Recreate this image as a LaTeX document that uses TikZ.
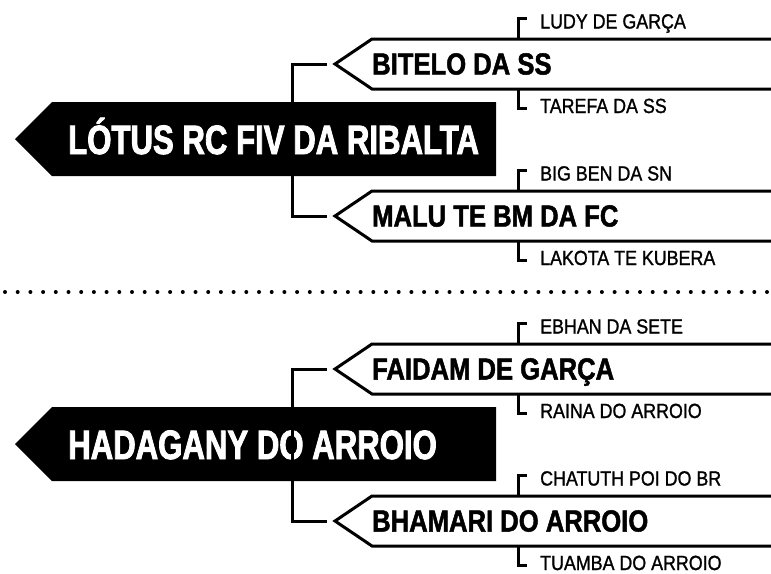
\documentclass[tikz,border=0pt]{standalone}
\usepackage{fontspec}
\setmainfont{Liberation Sans}
\newfontfamily\mainf{Liberation Sans}[FakeStretch=0.76, FakeBold=2]
\newfontfamily\childf{Liberation Sans}[FakeStretch=0.84, FakeBold=1.6]
\newfontfamily\leaff{Liberation Sans}[FakeStretch=0.87, FakeBold=1.2]
\tikzset{
  mainbox/.style={fill=black},
  childline/.style={line width=3pt, line join=miter},
  link/.style={line width=3pt, line join=miter},
  maintext/.style={anchor=base west, inner sep=0pt, text=white, font=\mainf\bfseries\fontsize{41}{41}\selectfont},
  childtext/.style={anchor=base west, inner sep=0pt, font=\childf\bfseries\fontsize{30.5}{30}\selectfont},
  leaftext/.style={anchor=base west, inner sep=0pt, font=\leaff\fontsize{20.5}{20}\selectfont},
  dotmark/.style={fill=black},
}
\newcommand\famblock[9]{%
  \begin{scope}[yshift=#1, name prefix=#2-]
    % main arrow
    \fill[mainbox] (15,139) -- (52,102) -- (496,102) -- (496,176) -- (52,176) -- cycle;
    \node[maintext] (main) at (68,154) {#3};
    \coordinate (trunk1) at (292,64);
    \coordinate (trunk2) at (292,216);
    % child 1
    \draw[childline] (780,39) -- (372,39) -- (335,64) -- (372,89) -- (780,89);
    \coordinate (k1in) at (327,64);
    \node[childtext] (k1) at (372,74.5) {#4};
    \coordinate (k1top) at (518,39);
    \coordinate (k1bot) at (518,89);
    \coordinate (l1aend) at (527,18.5);
    \coordinate (l1bend) at (527,108);
    \node[leaftext] (l1a) at (540,28.5) {#5};
    \node[leaftext] (l1b) at (540,113) {#6};
    \draw[link] (k1top) |- (l1aend);
    \draw[link] (k1bot) |- (l1bend);
    % child 2
    \draw[childline] (780,191) -- (372,191) -- (335,216) -- (372,241) -- (780,241);
    \coordinate (k2in) at (327,216);
    \node[childtext] (k2) at (372,226.5) {#7};
    \coordinate (k2top) at (518,191);
    \coordinate (k2bot) at (518,241);
    \coordinate (l2aend) at (527,170.5);
    \coordinate (l2bend) at (527,260);
    \node[leaftext] (l2a) at (540,180.5) {#8};
    \node[leaftext] (l2b) at (540,265) {#9};
    \draw[link] (k2top) |- (l2aend);
    \draw[link] (k2bot) |- (l2bend);
    % connector
    \draw[link] (k1in) -- (trunk1) -- (trunk2) -- (k2in);
  \end{scope}}
\begin{document}
\begin{tikzpicture}[x=1pt, y=-1pt]
  \useasboundingbox (0,0) rectangle (771,573);
  \famblock{0pt}{a}{LÓTUS RC FIV DA RIBALTA}{BITELO DA SS}{LUDY DE GARÇA}{TAREFA DA SS}{MALU TE BM DA FC}{BIG BEN DA SN}{LAKOTA TE KUBERA}
  \famblock{-305pt}{b}{HADAGANY DO ARROIO}{FAIDAM DE GARÇA}{EBHAN DA SETE}{RAINA DO ARROIO}{BHAMARI DO ARROIO}{CHATUTH POI DO BR}{TUAMBA DO ARROIO}
  \foreach \i in {0,...,60} \fill[dotmark] (5+12.7*\i, 292) circle[radius=2pt];
\end{tikzpicture}
\end{document}
